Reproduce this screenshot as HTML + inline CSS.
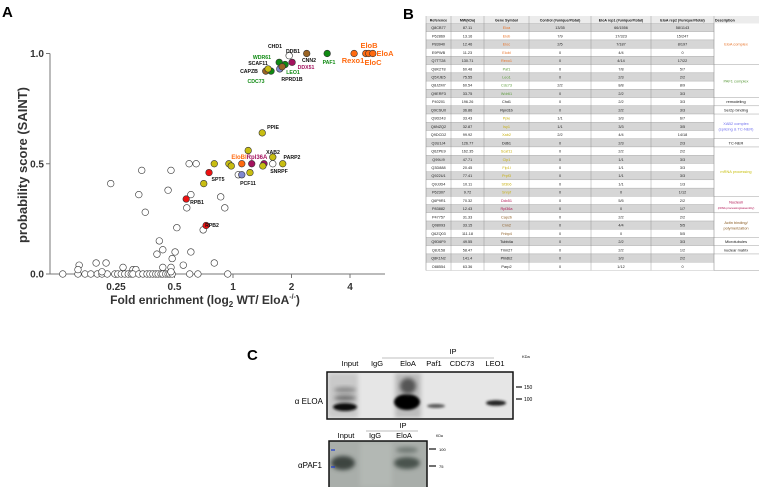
<!DOCTYPE html>
<html><head><meta charset="utf-8">
<style>
html,body{margin:0;padding:0;background:#fff;}
svg{display:block;font-family:"Liberation Sans",Arial,sans-serif;}
</style></head>
<body>
<svg id="fig" width="759" height="487" viewBox="0 0 759 487">
<defs>
<filter id="blur2" x="-50%" y="-50%" width="200%" height="200%"><feGaussianBlur stdDeviation="2.2"/></filter>
<filter id="blur1" x="-50%" y="-50%" width="200%" height="200%"><feGaussianBlur stdDeviation="1.2"/></filter>
<clipPath id="clip1"><rect x="328" y="373" width="184" height="45"/></clipPath>
<clipPath id="clip2"><rect x="330" y="442" width="96" height="45"/></clipPath>
</defs>

<!-- Panel A -->
<text x="2" y="17" font-size="15" font-weight="bold">A</text>
<g id="plotA">
  <line x1="50" y1="53.5" x2="50" y2="274" stroke="#777" stroke-width="1"/>
  <line x1="50" y1="274" x2="385" y2="274" stroke="#777" stroke-width="1"/>
  <g id="yticks"></g>
  <g id="xticks"></g>
  <g id="points"></g>
  <text transform="translate(27,165) rotate(-90)" text-anchor="middle" font-size="13" font-weight="bold" fill="#333">probability score (SAINT)</text>
  <text x="205" y="304" text-anchor="middle" font-size="12" font-weight="bold" fill="#333">Fold enrichment (log<tspan font-size="8" dy="3">2</tspan><tspan dy="-3"> WT/ EloA</tspan><tspan font-size="7" dy="-5">-/-</tspan><tspan dy="5">)</tspan></text>
  <g id="labels" font-weight="bold" font-size="5.2"></g>
</g>

<!-- Panel B -->
<text x="403" y="19" font-size="15" font-weight="bold">B</text>
<g id="table"></g>

<!-- Panel C -->
<text x="247" y="360" font-size="15" font-weight="bold">C</text>
<g id="blot1" font-size="7.5">
  <text x="453" y="354" text-anchor="middle">IP</text>
  <line x1="382" y1="358" x2="494" y2="358" stroke="#aaa" stroke-width="0.8"/>
  <text x="350" y="366" text-anchor="middle">Input</text>
  <text x="377" y="366" text-anchor="middle">IgG</text>
  <text x="408" y="366" text-anchor="middle">EloA</text>
  <text x="434" y="366" text-anchor="middle">Paf1</text>
  <text x="462" y="366" text-anchor="middle">CDC73</text>
  <text x="495" y="366" text-anchor="middle">LEO1</text>
  <rect x="327" y="372" width="186" height="47" fill="#e6e6e6" stroke="#111" stroke-width="1.5"/>
  <g clip-path="url(#clip1)">
    <rect x="328" y="373" width="30" height="45" fill="#c9c9c9" filter="url(#blur2)"/>
    <rect x="395" y="373" width="26" height="45" fill="#bdbdbd" filter="url(#blur2)"/>
    <ellipse cx="345" cy="390" rx="11" ry="3" fill="#8a8a8a" filter="url(#blur2)"/>
    <ellipse cx="345" cy="398" rx="11" ry="2.5" fill="#666" filter="url(#blur2)"/>
    <ellipse cx="345" cy="407" rx="12" ry="4" fill="#111" filter="url(#blur1)"/>
    <ellipse cx="407" cy="402" rx="13" ry="8" fill="#000" filter="url(#blur1)"/>
    <ellipse cx="408" cy="386" rx="8" ry="8" fill="#555" filter="url(#blur2)"/>
    <ellipse cx="436" cy="406" rx="9" ry="2" fill="#555" filter="url(#blur1)"/>
    <ellipse cx="496" cy="403" rx="10" ry="2.8" fill="#222" filter="url(#blur1)"/>
  </g>
  <text x="323" y="404" text-anchor="end" font-size="8">α ELOA</text>
  <line x1="516" y1="387" x2="522" y2="387" stroke="#111" stroke-width="1.2"/>
  <line x1="516" y1="399" x2="522" y2="399" stroke="#111" stroke-width="1.2"/>
  <text x="524" y="389" font-size="5">150</text>
  <text x="524" y="401" font-size="5">100</text>
  <text x="522" y="358" font-size="4">KDa</text>
</g>
<g id="blot2" font-size="7.5">
  <text x="403" y="428" text-anchor="middle">IP</text>
  <line x1="366" y1="431" x2="418" y2="431" stroke="#bbb" stroke-width="1"/>
  <text x="346" y="438" text-anchor="middle">Input</text>
  <text x="375" y="438" text-anchor="middle">IgG</text>
  <text x="404" y="438" text-anchor="middle">EloA</text>
  <rect x="329" y="441" width="98" height="47" fill="#a9aeaa" stroke="#111" stroke-width="1.5"/>
  <g clip-path="url(#clip2)">
    <rect x="360" y="442" width="32" height="45" fill="#b3b8b4" filter="url(#blur2)"/>
    <ellipse cx="343" cy="463" rx="12" ry="7" fill="#3d4540" filter="url(#blur2)"/>
    <ellipse cx="407" cy="463" rx="13" ry="6" fill="#4a524d" filter="url(#blur2)"/>
    <ellipse cx="407" cy="450" rx="11" ry="3" fill="#707873" filter="url(#blur2)"/>
  </g>
  <line x1="331" y1="450" x2="335" y2="450" stroke="#1a3ad0" stroke-width="1.2"/>
  <line x1="331" y1="467" x2="335" y2="467" stroke="#1a3ad0" stroke-width="1.2"/>
  <text x="322" y="468" text-anchor="end" font-size="8">αPAF1</text>
  <line x1="429" y1="449" x2="436" y2="449" stroke="#111" stroke-width="1.2"/>
  <line x1="429" y1="466" x2="436" y2="466" stroke="#111" stroke-width="1.2"/>
  <text x="439" y="451" font-size="4">100</text>
  <text x="439" y="468" font-size="4">75</text>
  <text x="436" y="437" font-size="3.5">KDa</text>
</g>
</svg>

<script>
// ---------- Panel A data ----------
const yTickValues = [0, 0.5, 1.0];
const yTickLabels = ["0.0", "0.5", "1.0"];
const xTickValues = [0.25, 0.5, 1, 2, 4];
const xTickLabels = ["0.25", "0.5", "1", "2", "4"];
// colored hits: log2 fold, score, group
const hitLog2 = [2.07, 2.27, 2.32, 2.39, 1.61, 1.26, 0.96, 1.01, 0.89, 0.79, 0.80, 0.84, 0.65, 0.56, 0.60,
                 0.50, 0.26, 0.68, 0.15, 0.32, 0.53, 0.68, 0.85, 0.51, -0.07, -0.03, -0.32, -0.50, 0.29, 0.09, 0.15, -0.41, -0.80, -0.46];
const hitScore = [1.0, 1.0, 1.0, 1.0, 1.0, 1.0, 0.99, 0.96, 0.95, 0.96, 0.93, 0.94, 0.92, 0.92, 0.93,
                  0.64, 0.56, 0.53, 0.50, 0.50, 0.50, 0.50, 0.50, 0.49, 0.50, 0.49, 0.50, 0.41, 0.46, 0.45, 0.45, 0.46, 0.34, 0.22];
const hitGroup = ["elo","elo","elo","elo","paf","actin","none","nucl","paf","paf","xab","actin","paf","actin","mrna",
                  "mrna","mrna","mrna","elo","nucl","nucl","none","mrna","mrna","mrna","mrna","mrna","mrna","mrna","none","xab","pol","pol","pol"];
// background (non-significant) proteins
const bgLog2 = [-2.09,-1.56,-1.61,-1.50,-1.06,-1.11,-0.75,-0.63,-0.72,-0.79,-0.21,-0.14,-0.96,-0.51,-1.26,-1.20,-1.30,-0.99,-1.04,-0.85,-0.32,-2.63,-2.34,-2.17,-1.88,-1.71,-1.66,-1.20,-1.06,-0.72,
  -2.91,-2.65,-2.53,-2.43,-2.32,-2.24,-2.15,-2.02,-1.97,-1.91,-1.85,-1.79,-1.74,-1.71,-1.61,-1.54,-1.47,-1.42,-1.37,-1.32,-1.28,-1.23,-1.20,-1.15,-1.11,-1.08,-1.04,-0.74,-0.60,-0.09,-2.65,-2.24,-1.06];
const bgScore = [0.41,0.47,0.36,0.28,0.47,0.38,0.50,0.50,0.36,0.30,0.35,0.30,0.21,0.20,0.15,0.11,0.09,0.10,0.07,0.04,0.05,0.04,0.05,0.05,0.03,0.02,0.02,0.03,0.03,0.10,
  0,0,0,0,0,0,0,0,0,0,0,0,0,0,0,0,0,0,0,0,0,0,0,0,0,0,0,0,0,0,0.02,0.01,0.01];
const groupColor = {elo:"#ff6a10", paf:"#0f8a12", actin:"#9a6424", nucl:"#a3125e", xab:"#8088d0", mrna:"#c8bd12", pol:"#ee1111", none:"#ffffff"};

const NS = "http://www.w3.org/2000/svg";
function xs(l){ return 233 + l*58.5; }
function xsFold(f){ return xs(Math.log2(f)); }
function ys(s){ return 274 - s*220.5; }
function mk(tag, attrs, parent){ const e=document.createElementNS(NS,tag); for(const k in attrs) e.setAttribute(k,attrs[k]); parent.appendChild(e); return e; }

const yt = document.getElementById('yticks');
yTickValues.forEach((v,i)=>{
  const l = mk('line',{x1:46,x2:50,y1:ys(v),y2:ys(v),stroke:'#777'},yt);
  
  
  const t = mk('text',{x:44,y:ys(v)+3.5,'text-anchor':'end','font-size':10,'font-weight':'bold',fill:'#333'},yt);
  t.textContent = yTickLabels[i];
  
  
});
const xt = document.getElementById('xticks');
xTickValues.forEach((v,i)=>{
  const l = mk('line',{x1:xsFold(v),x2:xsFold(v),y1:274,y2:278,stroke:'#777'},xt);
  
  
  const t = mk('text',{x:xsFold(v),y:290,'text-anchor':'middle','font-size':10,'font-weight':'bold',fill:'#333'},xt);
  t.textContent = xTickLabels[i];
  
  
});
const pts = document.getElementById('points');
bgLog2.forEach((l,i)=>{
  const c = mk('circle',{cx:xs(l),cy:ys(bgScore[i]),r:3.3,fill:'#fff',stroke:'#333','stroke-width':0.6},pts);
  
  
});
hitLog2.forEach((l,i)=>{
  const c = mk('circle',{cx:xs(l),cy:ys(hitScore[i]),r:3.3,fill:groupColor[hitGroup[i]],stroke:'#333','stroke-width':0.6},pts);
  
  
});
// annotation labels
const labTexts = ["CHD1","DDB1","WDR61","SCAF11","CAPZB","CDC73","LEO1","RPRD1B","DDX51","CNN2","PAF1","EloB","Rexo1","EloA","EloC","PPIE","XAB2","PARP2","SNRPF","EloBl","Rpl36A","PCF11","SPT5","RPB1","RPB2"];
const labX = [275,293,262,258,249,256,293,292,306,309,329,369,353,385,373,273,273,292,279,239,257,248,218,197,212];
const labY = [48,53,59,65,73,83,74,81,69,62,64,48,63,56,65,129,154,159,173,159,159,185,181,204,227];
const labC = ["#111","#111","#0f8a12","#111","#111","#0f8a12","#0f8a12","#111","#a3125e","#111","#0f8a12","#ff6a10","#ff6a10","#ff6a10","#ff6a10","#111","#111","#111","#111","#ff6a10","#a3125e","#111","#111","#111","#111"];
const labs = document.getElementById('labels');
labTexts.forEach((s,i)=>{
  const big = ["EloB","Rexo1","EloA","EloC"].includes(s);
  const t = mk('text',{x:labX[i],y:labY[i],'text-anchor':'middle',fill:labC[i],'font-size':big?7.5:(s==="EloBl"||s==="Rpl36A"?6:5.2)},labs);
  t.textContent = s;
  
  
});

// ---------- Panel B table ----------
const colHeads = ["Reference","MW(kDa)","Gene Symbol","Control (#unique/#total)","EloA rep1 (#unique/#total)","EloA rep2 (#unique/#total)","Description"];
const refs = ["Q8CB77","P62869","P83940","E9PWB","Q7TT28","Q8K2T8","Q5XJE5","Q8JZM7","Q9ERF3","P40201","Q9CSU0","Q9D243","Q6NZQ2","Q9DCD2","Q3U1J4","Q6ZPE9","Q99LI9","Q3D888","Q922U1","Q9JJD4","P62307","Q6P9R1","P83882","P47757","Q08093","Q6ZQ03","Q9D6F9","Q8J158","Q8K1N2","O88554"];
const mws = ["87.11","13.16","12.46","11.23","130.71","60.48","75.55","60.54","33.75","196.26","36.86","33.43","32.87","99.92","126.77","162.35","47.71","20.45","77.41","10.11","9.72","70.32","12.43","31.33","33.15","111.18","49.55","58.47","141.4","63.36"];
const genes = ["Eloa","Elob","Eloc","Elobl","Rexo1","Paf1","Leo1","Cdc73","Wdr61","Chd1","Rprd1b","Ppie","Isy1","Xab2","Ddb1","Scaf11","Clp1","Fip1l","Prpf3","Sf3b6","Snrpf","Ddx51","Rpl36a","Capzb","Cnn2","Fnbp4","Tubb4a","Trim27","Phldb2","Parp2"];
const geneGroup = ["elo","elo","elo","elo","elo","paf","paf","paf","paf","none","none","mrna","mrna","mrna","none","mrna","mrna","mrna","mrna","mrna","mrna","nucl","nucl","actin","actin","actin","none","none","none","none"];
const ctrl = ["13/35","7/9","2/5","0","0","0","0","2/2","0","0","0","1/1","1/1","2/2","0","0","0","0","0","0","0","0","0","0","0","0","0","0","0","0"];
const rep1 = ["66/1556","17/323","7/187","4/4","4/14","7/8","2/3","8/8","2/2","2/2","2/2","3/3","3/3","4/4","2/3","2/2","1/1","1/1","1/1","1/1","0","5/5","0","2/2","4/4","0","2/2","2/2","3/3","1/12"];
const rep2 = ["58/1143","15/247","8/197","0","17/22","5/7","2/2","8/9","3/3","3/3","3/3","6/7","3/5","14/18","2/3","2/2","3/3","3/3","3/3","1/3","1/12","2/2","1/7","2/2","5/5","5/5","3/3","1/2","2/2","0"];
const descText = [["EloA complex"],["PAF1 complex"],["remodeling"],["Ser2p binding"],["XAB2 complex","(splicing & TC-NER)"],["TC-NER"],["mRNA processing"],["Nucleoli","(rRNA processing/assembly)"],["Actin binding/","polymerization"],["Microtubules"],["nuclear matrix"],[""]];
const descStart = [0,5,9,10,11,14,15,21,23,26,27,28];
const descEnd   = [5,9,10,11,14,15,21,23,26,27,28,30];
const descColor = ["#e8742a","#5a9a3a","#111","#111","#7070ee","#111","#c8c010","#b01050","#8a5a20","#111","#111","#111"];

const tb = document.getElementById('table');
const colX = [426,451,484,529,591,651,714,759];
const top0 = 16, rowH = 8.23, hdrH = 7.5;
const geneCol = {elo:"#e8742a",paf:"#5a9a3a",mrna:"#c8b010",nucl:"#b01050",actin:"#8a5a20",none:"#111"};
function rowY(i){ return top0 + hdrH + i*rowH; }
// header
const hdr = mk('rect',{x:426,y:top0,width:333,height:hdrH,fill:'#ececec'},tb);


colHeads.forEach((h,i)=>{
  const t = mk('text',{x:i===6?colX[6]+1:(colX[i]+colX[i+1])/2,y:top0+5.3,'text-anchor':i===6?'start':'middle','font-size':3.6,'font-weight':'bold',fill:'#111'},tb);
  t.textContent = h;
  
  
});
refs.forEach((r,i)=>{
  const y = rowY(i);
  const bg = mk('rect',{x:426,y:y,width:colX[6]-426,height:rowH,fill:(i%2===0)?'#d6d6d6':'#ffffff',stroke:'#999','stroke-width':0.3},tb);
  
  
  const vals = [r, mws[i], genes[i], ctrl[i], rep1[i], rep2[i]];
  vals.forEach((v,c)=>{
    const t = mk('text',{x:(colX[c]+colX[c+1])/2,y:y+5.6,'text-anchor':'middle','font-size':3.8,fill:c===2?geneCol[geneGroup[i]]:'#222'},tb);
    t.textContent = v;
    
    
  });
});
// vertical col lines
colX.slice(0,7).forEach(x=>{
  const l = mk('line',{x1:x,x2:x,y1:top0,y2:rowY(30),stroke:'#888','stroke-width':0.4},tb);
  
  
});
// description groups
descText.forEach((lines,g)=>{
  const y0 = rowY(descStart[g]), y1 = rowY(descEnd[g]);
  const l = mk('line',{x1:714,x2:759,y1:y1,y2:y1,stroke:'#888','stroke-width':0.4},tb);
  
  
  const mid = (y0+y1)/2;
  lines.forEach((s,k)=>{
    const small = k>0 && g===7;
    const t = mk('text',{x:736,y:mid + (k-(lines.length-1)/2)*5.5 + 1.5,'text-anchor':'middle','font-size':small?2.9:3.9,fill:descColor[g]},tb);
    t.textContent = s;
    
    
  });
});
</script>
</body></html>
